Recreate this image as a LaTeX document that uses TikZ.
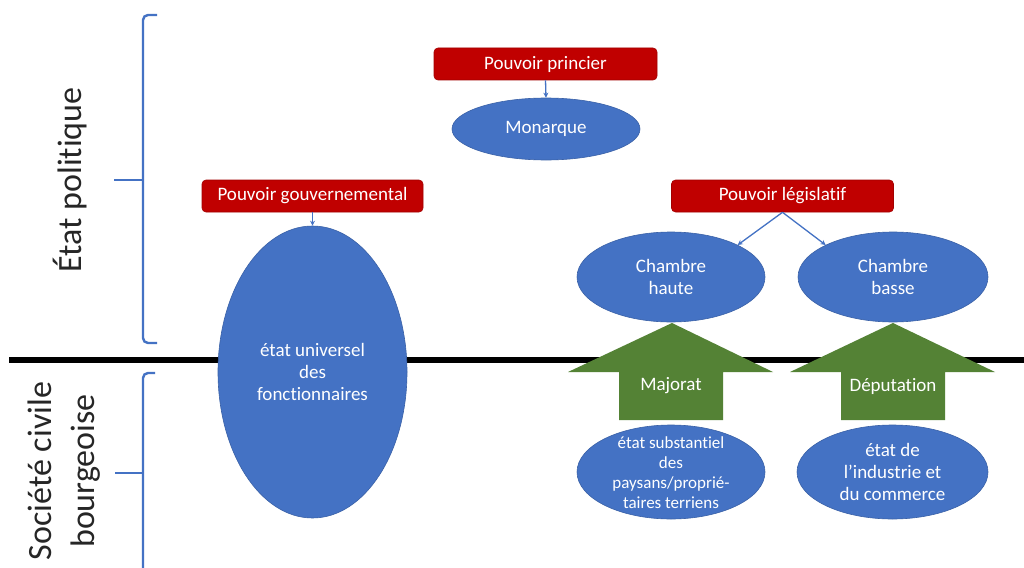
\documentclass[tikz,border=0pt]{standalone}
\usepackage{fontspec}
\setmainfont{Carlito}[Ligatures=NoCommon]
\usetikzlibrary{shapes.geometric,arrows.meta}
\definecolor{obl}{HTML}{4472C4}
\definecolor{ored}{HTML}{C00000}
\definecolor{ogr}{HTML}{548235}
\definecolor{otxt}{HTML}{262626}
\begin{document}
\begin{tikzpicture}[x=1pt,y=-1pt,
 redbox/.style={fill=ored, draw=ored!85!black, line width=0.6pt, rounded corners=4pt, text=white,
   font=\fontsize{19}{22}\selectfont, minimum height=32pt, inner sep=0pt},
 ell/.style={ellipse, fill=obl, draw=obl!85!black, line width=0.6pt, inner sep=0pt},
 etxt/.style={text=white, align=center, font=\fontsize{19}{22}\selectfont, inner sep=0pt},
 stxt/.style={text=white, align=center, font=\fontsize{17}{20}\selectfont, inner sep=0pt},
 conn/.style={draw=obl, line width=1.3pt, -{Stealth[length=5pt,width=5pt]}},
 bracketline/.style={draw=obl, line width=2.4pt, rounded corners=5pt},
 bigarrow/.style={fill=ogr},
 sidelabel/.style={rotate=90, text=otxt, align=center, inner sep=0pt}
]
\useasboundingbox[fill=white] (0,0) rectangle (1024,567);

% dividing line
\draw[line width=6pt] (9,360) -- (1024,360);

% brackets
\draw[bracketline] (157,15) -- (143,15) -- (143,343) -- (157,343);
\draw[bracketline] (143,180) -- (114,180);
\draw[bracketline] (155,373) -- (143,373) -- (143,575);
\draw[bracketline] (143,473) -- (115,473);

% side labels
\node[sidelabel, font=\fontsize{34}{41}\selectfont] (ep) at (70,180) {État politique};
\node[sidelabel, font=\fontsize{34}{43}\selectfont] (sc) at (64,471) {Société civile\\bourgeoise};

% red boxes
\node[redbox, minimum width=223pt] (pp) at (545.5,64) {Pouvoir princier};
\node[redbox, minimum width=221pt] (pg) at (312.5,196) {Pouvoir gouvernemental};
\node[redbox, minimum width=222pt] (pl) at (782.5,196) {Pouvoir législatif};

% ellipses
\node[ell, minimum width=188pt, minimum height=62pt] (mon) at (546,129) {};
\node[etxt] (monT) at (mon) {Monarque};

\node[ell, minimum width=189pt, minimum height=292pt] (fonc) at (312.5,372) {};
\node[etxt] (foncT) at (fonc) {état universel\\des\\fonctionnaires};

\node[ell, minimum width=188pt, minimum height=90pt] (ch) at (671,277) {};
\node[etxt] (chT) at (ch) {Chambre\\haute};

\node[ell, minimum width=190pt, minimum height=90pt] (cb) at (893,277) {};
\node[etxt] (cbT) at (cb) {Chambre\\basse};

% green arrows
\fill[bigarrow] (672,323) -- (773,372) -- (723,372) -- (723,420) -- (619,420) -- (619,372) -- (568,372) -- cycle;
\node[etxt] (maj) at (671,386) {Majorat};
\fill[bigarrow] (893,323) -- (995,372) -- (945,372) -- (945,420) -- (841,420) -- (841,372) -- (790,372) -- cycle;
\node[etxt] (dep) at (893,386) {Députation};

\node[ell, minimum width=188pt, minimum height=94pt] (es) at (671,472) {};
\node[stxt] (esT) at (671,473) {état substantiel\\des\\paysans/proprié-\\taires terriens};

\node[ell, minimum width=191pt, minimum height=94pt] (ei) at (892.5,472) {};
\node[etxt] (eiT) at (ei) {état de\\l’industrie et\\du commerce};

% connectors
\draw[conn] (pp.south) -- (mon.north);
\draw[conn] (pg.south) -- (fonc.north);
\draw[conn] (pl.south) -- (ch.north east);
\draw[conn] (pl.south) -- (cb.north west);
\end{tikzpicture}
\end{document}
